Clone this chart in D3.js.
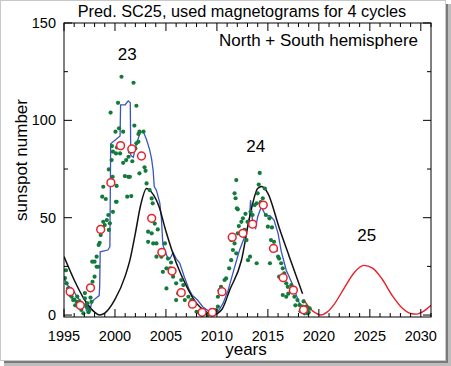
<!DOCTYPE html>
<html><head><meta charset="utf-8">
<script src="https://cdn.jsdelivr.net/npm/d3@7"></script>
<style>
html,body{margin:0;padding:0;background:#fff;}
svg{display:block;font-family:"Liberation Sans",Arial,sans-serif;}
</style></head>
<body><svg id="c" width="451" height="366"></svg>
<script>
// ---- data ----
const xTicksMajor = [1995, 2000, 2005, 2010, 2015, 2020, 2025, 2030];
const yTicksMajor = [0, 50, 100, 150];
const cycleLabels = ["23", "24", "25"];
const cycleLabelYears = [2001.2, 2013.8, 2024.7];
const cycleLabelValues = [131, 84, 38];

// model prediction (black) cycles 23-24
const blackYears  = [1995.0,1996.0,1997.0,1998.0,1998.5,1999.0,2000.0,2001.0,2001.5,2002.0,2002.5,2003.1,2003.6,2004.3,2005.0,2006.0,2007.0,2008.0,2009.0,2009.6,2010.5,2011.25,2012.4,2013.2,2014.0,2014.4,2015.0,2016.1,2017.1,2018.4];
const blackValues = [30,18,8,1.5,0,1,8,20,29,42,56,65,63,56,43,27,15,6,1.5,0,3,12.8,28,50,65,66,62.5,45,30,11];

// prediction SC25 (red)
const redYears  = [2018.5,2019.2,2019.8,2020.2,2020.8,2021.5,2022.5,2023.5,2024.4,2025.3,2026.2,2027.2,2028.2,2029.0,2029.6,2030.3,2031.0];
const redValues = [8,3,0.7,0,1.5,5.5,14,22,25.5,24,18.5,10,3.5,0.8,0.5,2,5];

// observed smoothed (blue)
const blueYears  = [1995.0,1995.4,1995.9,1996.3,1996.6,1996.9,1997.1,1997.2,1997.4,1997.5,1997.7,1997.9,1998.3,1998.45,1998.5,1998.55,1999.3,1999.5,1999.58,2000.5,2000.55,2001.0,2001.3,2001.5,2001.55,2001.8,2002.1,2002.5,2002.8,2003.1,2003.4,2003.6,2003.75,2003.85,2004.07,2004.4,2004.55,2004.7,2004.9,2005.2,2005.4,2005.7,2006.0,2006.35,2006.8,2007.3,2007.6,2008.1,2008.6,2009.3,2009.6,2010.1,2010.6,2011.1,2011.7,2012.2,2012.7,2013.0,2013.2,2013.3,2013.5,2013.8,2014.0,2014.35,2014.8,2015.2,2015.6,2016.0,2016.3,2016.8,2017.4,2017.8,2018.1,2018.75,2019.0];
const blueValues = [19,15,13,9,7.7,4.3,6,2.5,4,1.5,6,7.7,9.4,10,14.5,32.5,33.4,35,88,92,108,108,110,109,82,81,88,94,94,90,85,80,74,66,64,57.5,50,36,33,29,29,32,29,26.7,19.7,12.8,10,7.7,4.3,1.7,1,1.7,6,12.8,24,33,40,45,50,59,48,44.6,50.5,55.6,51,51,48.8,42,33,23,16,10,6,2.6,1.5];

// monthly values (green dots)
const greenYears = [1995.1,1995.2,1995.26,1995.4,1995.5,1995.6,1995.75,1995.9,1996.0,1996.1,1996.24,1996.3,1996.4,1996.5,1996.6,1996.7,1996.8,1996.9,1997.05,1997.05,1997.2,1997.3,1997.4,1997.5,1997.6,1997.7,1997.8,1997.77,1998.0,1998.0,1998.2,1998.2,1998.36,1998.4,1998.5,1998.6,1998.85,1999.0,1999.2,1999.35,1999.4,1999.5,1999.8,2000.16,
2000.64,2001.82,2000.3,1999.57,2002.1,2000.4,2000.05,2000.8,2001.9,2002.4,2002.8,2002.3,1999.7,2000.2,2000.1,2000.5,1999.8,1999.67,2001.46,2001.33,2002.1,2002.0,2002.3,2001.1,2000.8,2001.7,2002.9,2003.0,1999.4,1999.77,1999.67,2000.97,2001.3,2001.46,2002.4,1998.85,2000.16,2003.1,1998.75,1999.1,2000.1,2001.2,2001.6,2003.4,2003.6,2003.7,
2003.25,2003.6,2003.25,2003.75,2004.07,2004.4,2004.55,2004.07,2004.9,2005.05,2005.4,2004.7,2005.7,2005.05,2006.0,2006.2,2006.0,2006.5,2006.7,2006.85,2007.2,2007.5,2007.8,2008.0,2008.3,2008.8,2009.1,2009.45,2009.9,2003.9,2004.2,2005.2,2005.5,
2010.1,2010.1,2010.26,2010.4,2010.6,2010.75,2010.9,2011.2,2011.4,2011.57,2011.73,2011.4,2011.9,2012.05,2012.15,2012.4,2012.55,2012.7,2013.0,2012.9,2013.25,2013.05,2013.9,2011.73,2011.83,2012.05,2011.9,2013.5,2013.7,2013.9,2014.0,2014.2,2014.7,2014.8,2015.0,2015.15,2015.3,2015.2,2015.6,2015.8,2016.0,2016.1,2016.3,2016.46,2016.6,2016.1,2016.8,2016.95,2017.3,2017.45,2016.46,2016.8,2017.6,2017.9,2018.1,2018.4,2018.75,2018.9,2018.6,2019.1,2011.96,2014.3,2014.5,2013.3,2012.8,2015.4,2018.2,2019.0,2018.5,2017.0,2017.7,2014.1];
const greenValues = [19,23,16.3,13.7,11,10.3,9.4,7.7,8,5,6.8,9.5,4.3,7,3.5,2.6,5,0.9,8.6,11.3,4.3,6,1.5,2.6,9,6.8,17.1,27.4,19.7,27.4,24.8,30,24.8,36,37.1,41.1,47.9,46.2,48.8,51.4,43.7,47.1,53,58.2,
122.4,119.3,109,104,107.5,95.9,94.2,94.2,97.3,94.2,94.2,93,86.8,86.1,83,83,83.9,79.6,83.9,81.3,88.2,85.6,89,79.6,78.2,79,75.9,74.1,74.8,71,69,71.4,71,71,72.8,65.9,66.3,67.6,60.8,59.6,58.2,60.8,61.1,64.2,59.9,57.4,
42.8,42,37.6,36.8,36.8,31.7,30,30,36.8,24,24,22.2,19.7,13.7,16.3,11.1,7.7,18,15.4,7.7,9.4,7.7,6,1.7,0.9,0.9,0,1.7,2.6,47,44,29,27,
4.3,9.4,12.8,14.5,11.1,18,18.8,24,28.2,33.4,36.8,38.5,31.7,42,45.7,47.9,49.7,43.7,47.9,38.5,30,28.2,26.6,62.5,60,54.3,69.3,51.4,56.5,57.4,62.5,73,65,51.4,45.4,49.7,38.5,26.6,37.6,33.4,30,29,26.6,24,21.4,19.7,16.3,14.5,15.4,12.8,10.3,9.4,9.4,7.7,5.1,4.3,4.3,0.9,0.9,3.4,54.8,58,60,53,52,45,2,1.5,7,11,5,67];

// yearly means (red open circles)
const circleYears  = [1995.6,1996.6,1997.6,1998.6,1999.6,2000.55,2001.65,2002.6,2003.6,2004.6,2005.6,2006.5,2007.6,2008.55,2009.55,2010.5,2011.5,2012.55,2013.5,2014.55,2015.55,2016.5,2017.5,2018.5];
const circleValues = [12,5,14,44,68,87,85.3,81.7,49.7,32.2,22.6,11.5,5.6,1.4,1.4,12,40,42,46.7,56.5,34.2,19.2,12.8,2.7];

// ---- drawing ----
const svg = d3.select("#c");
// frame + shadow
svg.append("rect").attr("x",446).attr("y",4).attr("width",5).attr("height",362).attr("fill","#bdbdbd");
svg.append("rect").attr("x",4).attr("y",362).attr("width",447).attr("height",4).attr("fill","#bdbdbd");
svg.append("rect").attr("x",446).attr("y",4).attr("width",2).attr("height",359).attr("fill","#7a7a7a");
svg.append("rect").attr("x",4).attr("y",361).attr("width",444).attr("height",2).attr("fill","#7a7a7a");
svg.append("rect").attr("x",0.5).attr("y",0.5).attr("width",445).attr("height",360).attr("fill","#fff").attr("stroke","#c8c8c8");

const L = 64, R = 431, T = 23, B = 317;
const x = d3.scaleLinear().domain([1995, 2031]).range([L, R]);
const y = d3.scaleLinear().domain([-1, 150]).range([B, T]);

svg.append("clipPath").attr("id","pc").append("rect").attr("x",L).attr("y",T).attr("width",R-L).attr("height",B-T);
const g = svg.append("g").attr("clip-path","url(#pc)");

const line = (xs, vs) => d3.line().x((d,i)=>x(xs[i])).y((d,i)=>y(vs[i]))(xs);
const smooth = (xs, vs) => d3.line().curve(d3.curveMonotoneX).x((d,i)=>x(xs[i])).y((d,i)=>y(vs[i]))(xs);

g.append("path").attr("d", line(blueYears, blueValues)).attr("fill","none").attr("stroke","#3a55c0").attr("stroke-width",1.3);
g.append("path").attr("d", smooth(blackYears, blackValues)).attr("fill","none").attr("stroke","#111").attr("stroke-width",1.5);
g.append("path").attr("d", smooth(redYears, redValues)).attr("fill","none").attr("stroke","#e8202a").attr("stroke-width",1.4);

g.selectAll("circle.gd").data(greenYears).join("circle").attr("class","gd")
  .attr("cx",(d)=>x(d)).attr("cy",(d,i)=>y(greenValues[i])).attr("r",2.1).attr("fill","#147a3c");

g.selectAll("circle.rc").data(circleYears).join("circle").attr("class","rc")
  .attr("cx",(d)=>x(d)).attr("cy",(d,i)=>y(circleValues[i])).attr("r",3.9)
  .attr("fill","#fff").attr("stroke","#e8202a").attr("stroke-width",1.5);

// axes
const xMinor = d3.range(1995, 2032, 1);
const yMinor = d3.range(0, 151, 25);
const ax = svg.append("g").attr("stroke","#000").attr("stroke-width",1);
ax.append("rect").attr("x",L).attr("y",T).attr("width",R-L).attr("height",B-T).attr("fill","none");
xMinor.forEach(v=>{
  const len = (v % 5 === 0) ? 8 : 4;
  ax.append("line").attr("x1",x(v)).attr("x2",x(v)).attr("y1",B).attr("y2",B-len);
  ax.append("line").attr("x1",x(v)).attr("x2",x(v)).attr("y1",T).attr("y2",T+len);
});
yMinor.forEach(v=>{
  const len = (v % 50 === 0) ? 8 : 4;
  ax.append("line").attr("x1",L).attr("x2",L+len).attr("y1",y(v)).attr("y2",y(v));
  ax.append("line").attr("x1",R).attr("x2",R-len).attr("y1",y(v)).attr("y2",y(v));
});

svg.selectAll("text.xt").data(xTicksMajor).join("text").attr("class","xt")
  .attr("x",d=>x(d)).attr("y",341).attr("text-anchor","middle").attr("font-size",14.5).text(d=>d);
svg.selectAll("text.yt").data(yTicksMajor).join("text").attr("class","yt")
  .attr("x",L-8).attr("y",d=>y(d)+5).attr("text-anchor","end").attr("font-size",14.5).text(d=>d);

svg.append("text").attr("x",242).attr("y",17).attr("text-anchor","middle").attr("font-size",16.3).text("Pred. SC25, used magnetograms for 4 cycles");
svg.append("text").attr("x",418).attr("y",46).attr("text-anchor","end").attr("font-size",17).text("North + South hemisphere");
svg.append("text").attr("x",246).attr("y",355).attr("text-anchor","middle").attr("font-size",17).text("years");
svg.append("text").attr("transform","translate(27,160) rotate(-90)").attr("text-anchor","middle").attr("font-size",17).text("sunspot number");

svg.selectAll("text.cl").data(cycleLabels).join("text").attr("class","cl")
  .attr("x",(d,i)=>x(cycleLabelYears[i])).attr("y",(d,i)=>y(cycleLabelValues[i])).attr("text-anchor","middle").attr("font-size",17).text(d=>d);
</script></body></html>
